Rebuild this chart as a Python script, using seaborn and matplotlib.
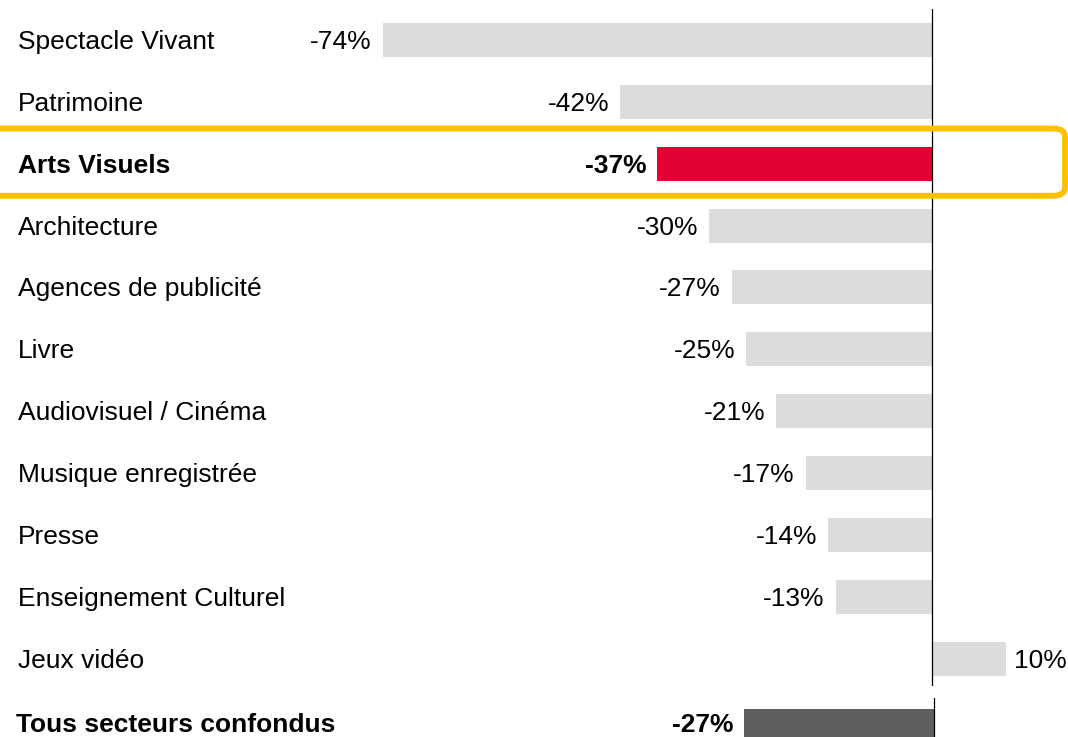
import matplotlib
matplotlib.use("Agg")
import matplotlib.pyplot as plt
import seaborn as sns
from matplotlib.patches import FancyBboxPatch
import matplotlib.transforms as mtransforms

categories = ["Spectacle Vivant", "Patrimoine", "Arts Visuels", "Architecture",
              "Agences de publicité", "Livre", "Audiovisuel / Cinéma",
              "Musique enregistrée", "Presse", "Enseignement Culturel", "Jeux vidéo"]
values = [-74, -42, -37, -30, -27, -25, -21, -17, -14, -13, 10]
highlight = "Arts Visuels"
total_label = ["Tous secteurs confondus"]
total_value = [-27]

GRAY = "#DCDCDC"
RED = "#E30034"
DARK = "#5F5F5F"
GOLD = "#FFC000"

sns.set_theme(style="white")
plt.rcParams["font.family"] = ["Liberation Sans", "DejaVu Sans"]
FS = 19

W, H = 1068, 737
fig = plt.figure(figsize=(W / 100, H / 100), dpi=100)

# main axes
ax = fig.add_axes([0, 1 - 686 / H, 1, (686 - 9) / H])
palette = {c: (RED if c == highlight else GRAY) for c in categories}
sns.barplot(x=values, y=categories, hue=categories, palette=palette, legend=False,
            orient="h", width=0.55, saturation=1, ax=ax, linewidth=0)
ax.set_xlim(-932 / 7.42, (W - 932) / 7.42)
ax.set_ylim(10.44, -0.5)
ax.axvline(0, color="black", lw=0.9, zorder=5)
ax.axis("off")

tr = mtransforms.blended_transform_factory(fig.transFigure, ax.transData)
for i, (c, v) in enumerate(zip(categories, values)):
    bold = "bold" if c == highlight else "normal"
    ax.annotate(c, xy=(18 / W, i), xycoords=tr, xytext=(0, -9), textcoords="offset pixels",
                ha="left", va="baseline", fontsize=FS, fontweight=bold, color="black")
    if v < 0:
        ax.annotate(f"{v}%", xy=(v, i), xytext=(-11, -9), textcoords="offset pixels",
                    ha="right", va="baseline", fontsize=FS, fontweight=bold, color="black")
    else:
        ax.annotate(f"{v}%", xy=(v, i), xytext=(8, -9), textcoords="offset pixels",
                    ha="left", va="baseline", fontsize=FS, fontweight=bold, color="black")

# highlight box
box = FancyBboxPatch((-30 / W, 1 - 195.7 / H), (1065 + 30) / W, (195.7 - 128.5) / H,
                     boxstyle="round,pad=0,rounding_size=0.011",
                     transform=fig.transFigure, fill=False, edgecolor=GOLD,
                     linewidth=4.2, zorder=10)
fig.patches.append(box)

# total axes
ax2 = fig.add_axes([0, 0, 1, 39 / H])
sns.barplot(x=total_value, y=total_label, color=DARK, orient="h", width=0.565,
            saturation=1, ax=ax2, linewidth=0)
ax2.set_xlim(-934 / 7.03, (W - 934) / 7.03)
ax2.set_ylim(0.17, -0.46)
ax2.axvline(0, color="black", lw=0.9, zorder=5)
ax2.axis("off")
tr2 = mtransforms.blended_transform_factory(fig.transFigure, ax2.transData)
for i, (c, v) in enumerate(zip(total_label, total_value)):
    ax2.annotate(c, xy=(16 / W, i), xycoords=tr2, xytext=(0, -6), textcoords="offset pixels",
                 ha="left", va="baseline", fontsize=FS, fontweight="bold", color="black",
                 annotation_clip=False)
    ax2.annotate(f"{v}%", xy=(v, i), xytext=(-11, -6), textcoords="offset pixels",
                 ha="right", va="baseline", fontsize=FS, fontweight="bold", color="black",
                 annotation_clip=False)

fig.savefig("out.png", dpi=100)
